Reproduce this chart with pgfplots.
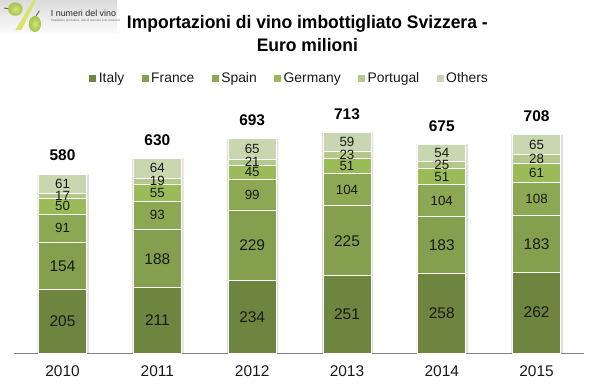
\documentclass[border=0pt]{standalone}
\usepackage{pgfplots}
\usepackage{pgfplotstable}
\pgfplotsset{compat=1.18}
\usepackage{fontspec}
\setmainfont{Liberation Sans}
\newfontfamily\titlefont[FakeStretch=0.965]{Liberation Sans}
\definecolor{cIt}{HTML}{6E8540}
\definecolor{cFr}{HTML}{84A04F}
\definecolor{cEs}{HTML}{8CA853}
\definecolor{cDe}{HTML}{9BBB59}
\definecolor{cPt}{HTML}{B3C88A}
\definecolor{cOt}{HTML}{C8D7AF}
\definecolor{grapeIn}{HTML}{D2E27E}
\definecolor{grapeOut}{HTML}{A9C248}
\pgfplotstableread{
x Italy France Spain Germany Portugal Others Total Sum
0 205 154 91 50 17 61 580 578
1 211 188 93 55 19 64 630 630
2 234 229 99 45 21 65 693 693
3 251 225 104 51 23 59 713 713
4 258 183 104 51 25 54 675 675
5 262 183 108 61 28 65 708 707
}\datatable
\pgfplotsset{
  common/.style={
    at={(10.5pt,-264.75pt)}, anchor=south west,
    scale only axis, width=427.5pt, height=189.75pt,
    xmin=-0.512, xmax=5.5, ymin=0, ymax=819,
    clip=false,
  },
  seg/.style={fill=#1, draw=white, line width=0.7pt},
}
\begin{document}
\begin{tikzpicture}
\useasboundingbox (0,0) rectangle (448.5pt,-291.75pt);
% logo
\shade[top color=black!14, bottom color=black!2] (0,0) rectangle (87.75pt,-24pt);
\fill[color={rgb,255:red,214;green,228;blue,110}] (25pt,0) -- (27.2pt,0) -- (16pt,-22.5pt) -- (11.5pt,-22.5pt) -- cycle;
\draw[color={rgb,255:red,120;green,100;blue,60},line width=0.7pt] (3pt,-6pt) -- (8pt,-6.8pt);
\draw[color={rgb,255:red,120;green,100;blue,60},line width=0.7pt] (29.5pt,-8pt) -- (26.5pt,-13pt);
\shade[inner color=grapeIn, outer color=grapeOut] (11.5pt,-6.8pt) ellipse (5.4pt and 5pt);
\shade[inner color=grapeIn, outer color=grapeOut] (26.2pt,-18pt) ellipse (4.6pt and 6pt);
\node[anchor=west,inner sep=0,text=black!85,font=\fontsize{6.65pt}{8pt}\selectfont] at (38pt,-9.8pt) {I numeri del vino};
\node[anchor=west,inner sep=0,text=black!55,font=\fontsize{2.3pt}{3pt}\selectfont] at (38pt,-15.6pt) {Statistiche produttive, dati di mercato e di consumo.};
% title
\node[inner sep=0,font=\titlefont\bfseries\fontsize{13.6pt}{17pt}\selectfont,align=center,text=black] at (230.5pt,-25.2pt) {Importazioni di vino imbottigliato Svizzera -\\Euro milioni};
% shadow
\begin{axis}[common, hide axis]
\addplot[ybar, bar width=38.6pt, bar shift=0.4pt, fill=black!13, draw=none] table[x=x,y=Sum] {\datatable};
\end{axis}
% bars
\begin{axis}[common,
  ybar stacked, bar width=36pt,
  axis y line=none, axis x line=bottom, axis line style={draw=black!50, line width=0.7pt, -},
  xtick=data, xticklabels={2010,2011,2012,2013,2014,2015},
  xtick style={draw=none},
  xticklabel style={font=\fontsize{11.6pt}{13pt}\selectfont, text=black!90, yshift=-3.8pt},
  nodes near coords, point meta=explicit,
  nodes near coords style={text=black!90, font=\fontsize{10pt}{11pt}\selectfont, /pgf/number format/assume math mode=true, /pgf/number format/fixed},
  legend columns=6,
  legend style={draw=none, fill=none, at={(0.484,1.084)}, anchor=center, font=\fontsize{10.4pt}{12pt}\selectfont, text=black!90,
     nodes={text height=8pt, text depth=2.2pt},
     /tikz/every even column/.append style={column sep=11pt}},
  legend image code/.code={\fill[#1,draw=none] (0pt,-2.6pt) rectangle (5.2pt,2.6pt);},
]
\addplot[seg=cIt, nodes near coords style={font=\fontsize{11.6pt}{13pt}\selectfont}] table[x=x,y=Italy,meta=Italy] {\datatable};
\addplot[seg=cFr, nodes near coords style={font=\fontsize{11.6pt}{13pt}\selectfont}] table[x=x,y=France,meta=France] {\datatable};
\addplot[seg=cEs] table[x=x,y=Spain,meta=Spain] {\datatable};
\addplot[seg=cDe] table[x=x,y=Germany,meta=Germany] {\datatable};
\addplot[seg=cPt] table[x=x,y=Portugal,meta=Portugal] {\datatable};
\addplot[seg=cOt] table[x=x,y=Others,meta=Others] {\datatable};
\legend{Italy,France,Spain,Germany,Portugal,Others}
\end{axis}
% totals
\begin{axis}[common, hide axis]
\addplot[draw=none, mark=none, nodes near coords, point meta=explicit,
  nodes near coords style={anchor=south, yshift=9.5pt, inner sep=0pt, font=\bfseries\fontsize{11.6pt}{13pt}\selectfont, text=black, /pgf/number format/assume math mode=true, /pgf/number format/fixed}]
  table[x=x,y=Total,meta=Total] {\datatable};
\end{axis}
\end{tikzpicture}
\end{document}
